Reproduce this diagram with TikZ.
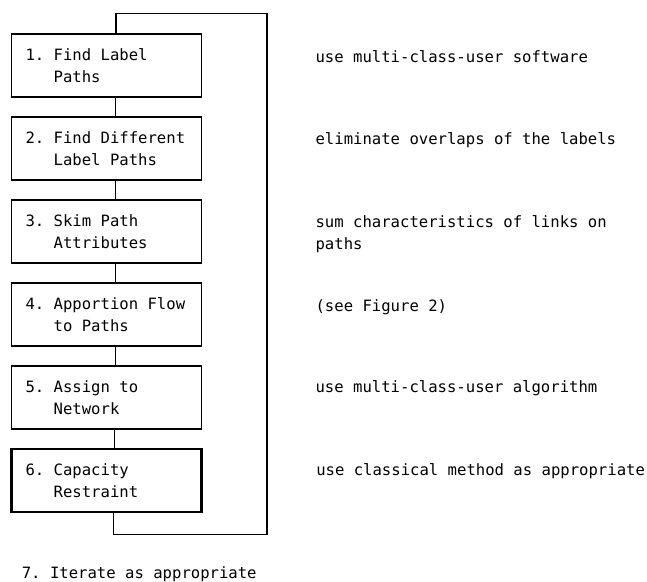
\documentclass[tikz,border=0pt]{standalone}
\usepackage{fontspec}
\setmonofont{DejaVu Sans Mono}
\usepackage{tikz}
\usetikzlibrary{arrows,shapes,automata,positioning,calc}

\begin{document}
\begin{tikzpicture}[-,x=1pt,y=1pt,auto,
node distance=83pt,
line width=1.1pt, font=\ttfamily\fontsize{15.6}{22}\selectfont]

\tikzstyle{every state}=[rectangle, text width=162pt, minimum height=63pt, 
align=flush left, inner xsep=14pt, inner ysep=0pt, fill=none, draw, line width=1.1pt]
\tikzstyle{note}=[anchor=base west, text width=330pt, align=flush left, inner sep=0pt]

\useasboundingbox (0,0) rectangle (647,-581);

%steps
\node[state]
(flabel) at (106.5,-65.5)
{1.~Find Label\\\hphantom{1.~}Paths};

\node[state]
(fdiff) [below of=flabel]
{2.~Find Different\\\hphantom{2.~}Label Paths};

\node[state]
(skim) [below of=fdiff]
{3.~Skim Path\\\hphantom{3.~}Attributes};

\node[state]
(apport) [below of=skim]
{4.~Apportion Flow\\\hphantom{4.~}to Paths};

\node[state]
(assign) [below of=apport]
{5.~Assign to\\\hphantom{5.~}Network};

\node[state, line width=2.4pt]
(caprest) [below of=assign]
{6.~Capacity\\\hphantom{6.~}Restraint};

\node[anchor=base west, inner sep=0pt]
(iter) at ($(caprest.south west) + (11, -65)$)
{7.~Iterate as appropriate};

%notes
\node[note] (nsoft) at ($(flabel.north east) + (113, -29)$)
{use multi-class-user software};
\node[note] (nover) at ($(fdiff.north east) + (113, -28)$)
{eliminate overlaps of the labels};
\node[note] (nsum) at ($(skim.north east) + (113, -28)$)
{sum characteristics of links on\\paths};
\node[note] (nfig) at ($(apport.north east) + (113, -29)$)
{(see Figure 2)};
\node[note] (nalg) at ($(assign.north east) + (113, -27)$)
{use multi-class-user algorithm};
\node[note] (nclass) at ($(caprest.north east) + (113, -28)$)
{use classical method as appropriate};

\path ([xshift=9pt]flabel.south) edge ([xshift=9pt]fdiff.north);
\path ([xshift=9pt]fdiff.south) edge ([xshift=9pt]skim.north);
\path ([xshift=9pt]skim.south) edge ([xshift=9pt]apport.north);
\path ([xshift=9pt]apport.south) edge ([xshift=9pt]assign.north);
\path ([xshift=8pt]assign.south) edge ([xshift=8pt]caprest.north);

%loop back
\coordinate (loopbot) at ($(caprest.south) + (7, -21)$);
\coordinate (looptop) at ($(flabel.north) + (9.5, 20)$);

\draw ([xshift=7pt]caprest.south) 
	-- (loopbot) 
	-| ($(looptop) + (151, 0)$) 
	-- (looptop) 
	-- ([xshift=9.5pt]flabel.north);

\end{tikzpicture}
\end{document}
